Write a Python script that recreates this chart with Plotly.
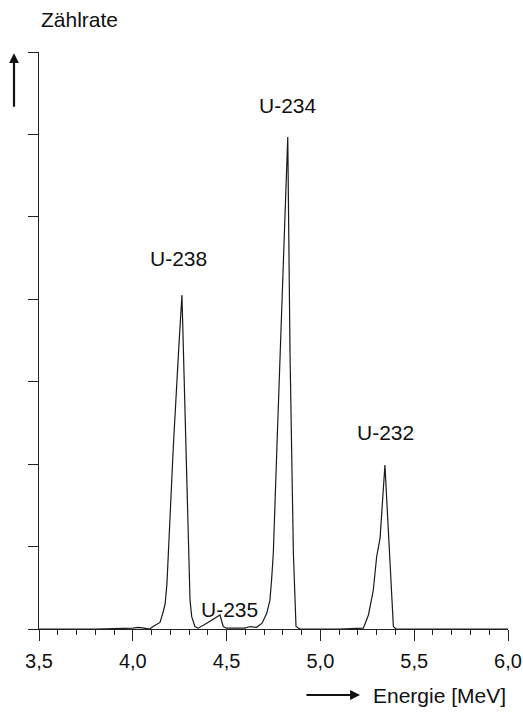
import plotly.graph_objects as go

# Energy (MeV) and count rate (arbitrary units, axis ticks every 1 unit)
energy = [3.50, 3.80, 4.00, 4.03, 4.06, 4.09, 4.108, 4.129, 4.145, 4.161, 4.172,
          4.182, 4.216, 4.246, 4.262, 4.305, 4.314, 4.331, 4.349, 4.394, 4.465,
          4.482, 4.50, 4.598, 4.625, 4.660, 4.689, 4.714, 4.731, 4.740, 4.749,
          4.767, 4.794, 4.826, 4.838, 4.856, 4.870, 4.891, 5.10, 5.184, 5.229,
          5.256, 5.282, 5.300, 5.318, 5.344, 5.362, 5.389, 5.403, 6.00]
counts = [0.00, 0.00, 0.01, 0.02, 0.01, 0.00, 0.03, 0.06, 0.08, 0.20, 0.30,
          0.55, 2.21, 3.45, 4.05, 0.35, 0.15, 0.03, 0.01, 0.07, 0.17,
          0.03, 0.01, 0.01, 0.03, 0.02, 0.07, 0.19, 0.35, 0.60, 0.92,
          2.13, 3.95, 5.97, 3.35, 0.92, 0.03, 0.00, 0.00, 0.005, 0.01,
          0.17, 0.47, 0.88, 1.10, 1.99, 1.16, 0.03, 0.00, 0.00]

peak_labels = ["U-238", "U-235", "U-234", "U-232"]
label_x = [4.246, 4.513, 4.825, 5.347]
label_y = [4.50, 0.24, 6.35, 2.39]

x_tickvals = [3.5, 4.0, 4.5, 5.0, 5.5, 6.0]
x_ticktext = ["3,5", "4,0", "4,5", "5,0", "5,5", "6,0"]

FONT = "Liberation Sans, Arial, sans-serif"
LABEL_SIZE = 21
TICK_SIZE = 20

fig = go.Figure()
fig.add_trace(go.Scatter(x=energy, y=counts, mode="lines",
                         line=dict(color="#1a1a1a", width=1.2),
                         hoverinfo="skip", showlegend=False))

annotations = []
for t, xx, yy in zip(peak_labels, label_x, label_y):
    annotations.append(dict(x=xx, y=yy, xref="x", yref="y", text=t, showarrow=False,
                            font=dict(family=FONT, size=LABEL_SIZE, color="#111"),
                            xanchor="center", yanchor="middle"))

annotations += [
    dict(x=0.0, y=1.0555, xref="paper", yref="paper", text="Zählrate", showarrow=False,
         font=dict(family=FONT, size=LABEL_SIZE, color="#111"), xanchor="left", yanchor="middle"),
    # vertical arrow next to y axis
    dict(x=-0.0533, y=0.998, xref="paper", yref="paper", text="", showarrow=True,
         ax=0, ay=55, arrowhead=2, arrowsize=0.9,
         arrowwidth=2.2, arrowcolor="#111", standoff=0),
    # horizontal arrow before energy label
    dict(x=0.6844, y=-0.1144, xref="paper", yref="paper", text="", showarrow=True,
         ax=-55, ay=0, arrowhead=2, arrowsize=0.9, arrowwidth=2.2,
         arrowcolor="#111", standoff=0),
    dict(x=0.708, y=-0.1144, xref="paper", yref="paper", text="Energie [MeV]",
         showarrow=False, font=dict(family=FONT, size=LABEL_SIZE, color="#111"),
         xanchor="left", yanchor="middle"),
]

fig.update_layout(
    width=523, height=714,
    margin=dict(l=39, r=15, t=52, b=85, autoexpand=False),
    paper_bgcolor="white", plot_bgcolor="white",
    separators=",.",
    font=dict(family=FONT, size=TICK_SIZE, color="#111"),
    annotations=annotations,
    xaxis=dict(range=[3.5, 6.0], showgrid=False, zeroline=False,
               showline=True, linecolor="#222", linewidth=1,
               tickmode="array", tickvals=x_tickvals, ticktext=x_ticktext,
               ticks="outside", ticklen=11, tickwidth=1, tickcolor="#222",
               ticklabelstandoff=3, automargin=False,
               minor=dict(dtick=0.1, tick0=3.5, ticks="outside", ticklen=5,
                          tickwidth=1, tickcolor="#222", showgrid=False),
               tickfont=dict(family=FONT, size=TICK_SIZE, color="#111")),
    yaxis=dict(range=[0, 7], showgrid=False, zeroline=False,
               showline=True, linecolor="#222", linewidth=1,
               tickmode="linear", tick0=0, dtick=1, automargin=False,
               ticks="outside", ticklen=10, tickwidth=1, tickcolor="#222",
               showticklabels=False),
)

# remove the default page margin so the 523x714 figure fills the window exactly
fig.write_html("out.html",
               config={"displayModeBar": False, "staticPlot": True},
               post_script="document.body.style.margin='0';document.body.style.overflow='hidden';")
